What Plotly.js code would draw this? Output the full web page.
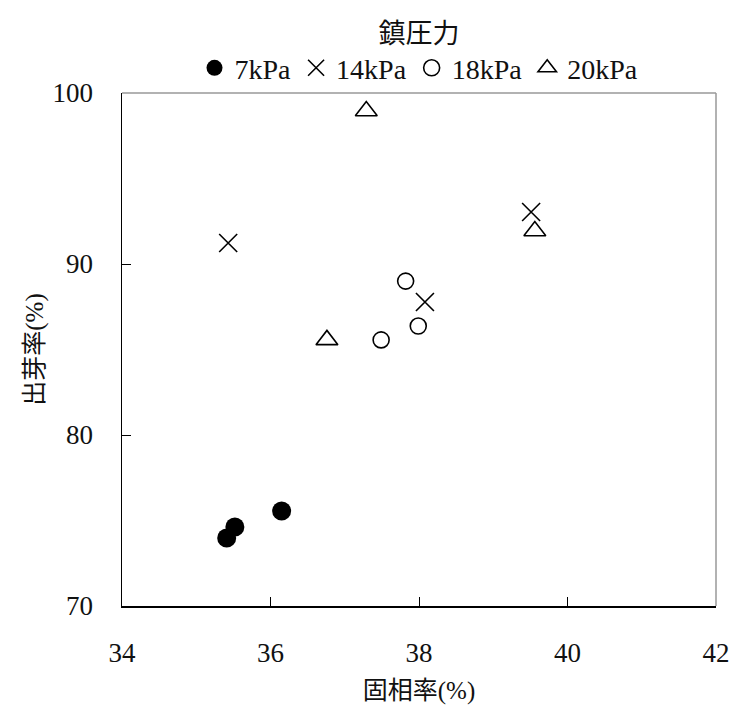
<!DOCTYPE html>
<html>
<head>
<meta charset="utf-8">
<script src="https://cdn.plot.ly/plotly-3.0.1.min.js"></script>
<style>html,body{margin:0;padding:0;background:#fff;}#chart{width:734px;height:706px;}</style>
</head>
<body>
<div id="chart"></div>
<script>
const seriesNames = ["7kPa", "14kPa", "18kPa", "20kPa"];
const x7 = [35.41, 35.52, 36.15];
const y7 = [73.98, 74.62, 75.56];
const x14 = [35.43, 39.51, 38.08];
const y14 = [91.23, 93.04, 87.78];
const x18 = [37.82, 37.99, 37.49];
const y18 = [89.0, 86.37, 85.56];
const x20 = [37.29, 36.76, 39.56];
const y20 = [98.95, 85.56, 91.93];
const xTicks = [34, 36, 38, 40, 42];
const yTicks = [70, 80, 90, 100];
const legendTitle = "鎮圧力";
const xTitle = "固相率(%)";
const yTitle = "出芽率(%)";

const FONT = "Liberation Serif, 'Noto Sans CJK JP', serif";

const traces = [
  {x: x7, y: y7, name: seriesNames[0], mode: "markers", type: "scatter",
   marker: {symbol: "circle", size: 19, color: "#000", line: {width: 0}}},
  {x: x14, y: y14, name: seriesNames[1], mode: "markers", type: "scatter",
   marker: {symbol: "x-thin-open", size: 18, color: "#000", line: {width: 1.6, color: "#000"}}},
  {x: x18, y: y18, name: seriesNames[2], mode: "markers", type: "scatter",
   marker: {symbol: "circle-open", size: 16, color: "#000", line: {width: 1.6, color: "#000"}}},
  {x: x20, y: y20, name: seriesNames[3], mode: "markers", type: "scatter",
   marker: {symbol: "triangle-up-open", size: 19, color: "#000", line: {width: 1.6, color: "#000"}}}
];

const layout = {
  width: 734, height: 706,
  margin: {l: 122, r: 18, t: 93, b: 100, pad: 0, autoexpand: false},
  paper_bgcolor: "#fff", plot_bgcolor: "#fff",
  font: {family: FONT, size: 26, color: "#111"},
  showlegend: true,
  legend: {
    orientation: "h", x: 0.5, xanchor: "center", y: 1.0, yanchor: "bottom",
    title: {text: legendTitle, side: "top center", font: {family: FONT, size: 27, color: "#111"}},
    font: {family: FONT, size: 28, color: "#111"},
    itemwidth: 30, tracegroupgap: 0, traceorder: "normal",
    bgcolor: "rgba(0,0,0,0)"
  },
  xaxis: {
    range: [34, 42], tickvals: xTicks, ticktext: xTicks.map(String),
    showgrid: false, zeroline: false,
    showline: true, linecolor: "#000", linewidth: 1.5,
    ticks: "inside", ticklen: 9, tickwidth: 1, tickcolor: "#000",
    ticklabelstandoff: 22,
    tickfont: {family: FONT, size: 27, color: "#111"},
    title: {text: xTitle, font: {family: FONT, size: 25, color: "#111"}, standoff: 14}
  },
  yaxis: {
    range: [70, 100], tickvals: yTicks, ticktext: yTicks.map(String),
    showgrid: false, zeroline: false,
    showline: true, linecolor: "#000", linewidth: 1.5,
    ticks: "inside", ticklen: 9, tickwidth: 1, tickcolor: "#000",
    ticklabelstandoff: 22,
    tickfont: {family: FONT, size: 27, color: "#111"},
    title: {text: yTitle, font: {family: FONT, size: 25, color: "#111"}, standoff: 2}
  },
  shapes: [
    {type: "line", xref: "paper", yref: "paper", x0: 0, x1: 1, y0: 1, y1: 1,
     line: {color: "#999", width: 1.5}, layer: "below"},
    {type: "line", xref: "paper", yref: "paper", x0: 1, x1: 1, y0: 0, y1: 1,
     line: {color: "#999", width: 1.5}, layer: "below"}
  ]
};

Plotly.newPlot("chart", traces, layout, {displayModeBar: false, staticPlot: true});
</script>
</body>
</html>
